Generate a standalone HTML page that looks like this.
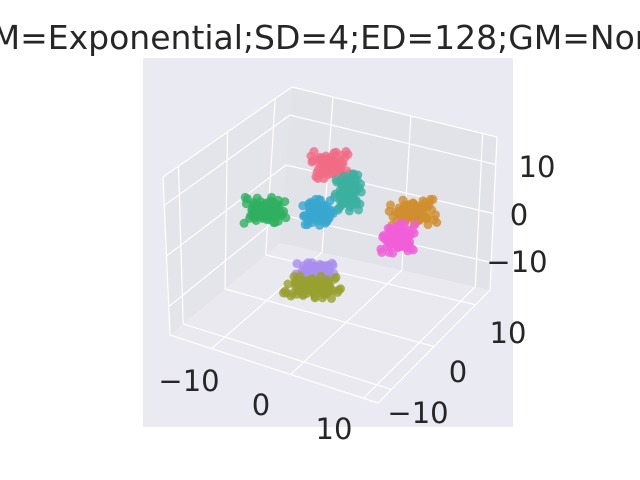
<!DOCTYPE html>
<html><head><meta charset="utf-8"><style>
body{margin:0;background:#fff;width:640px;height:480px;overflow:hidden}
svg{display:block}
text{font-family:"DejaVu Sans","Liberation Sans",sans-serif;fill:#262626}
</style></head><body>
<svg id="c" width="640" height="480">
<text x="320" y="49" font-size="33" text-anchor="middle">M=Exponential;SD=4;ED=128;GM=Nor</text>
<rect x="143" y="58" width="370" height="369" fill="#eaeaf2"/>
<polygon points="170,335 163,177 292,87 280,243" fill="#e4e4eb"/>
<polygon points="280,243 292,87 497,137 490,290" fill="#e2e2e9"/>
<polygon points="170,335 280,243 490,290 378,403" fill="#e9e9ef"/>
<g id="grid" stroke="#fff" stroke-width="1.2" fill="none"></g>
<g id="pts"></g>
<g id="ticks"></g>
</svg>
<script>
const clusterNames=['pink','teal','blue','green','orange','magenta','purple','olive'];
const clusterColors=['#f06d84','#3bb0a0','#38a7d0','#30b060','#cf8e30','#f05fd8','#a98ff0','#98a030'];
const centerX=[330,348,318,265,413,398,315,312];
const centerY=[165,192,212,210,212,238,270,287];
const spreadX=[20,14,16,22,25,18,20,30];
const spreadY=[15,20,14,14,14,16,8,12];
const offX=[-0.9,-0.6,-0.3,0,0.3,0.6,0.9,-0.8,-0.4,0.1,0.5,0.8,-0.7,-0.2,0.2,0.7,-0.5,0,0.4,0.95,-0.95,-0.1,0.35,-0.65,0.65,-0.3,0.15,0.55,-0.45,0.05,0.85,-0.85,0.25,-0.15,0.45,-0.55,0.75,-0.35,0.1,0.6];
const offY=[-0.2,0.5,-0.7,0.1,0.8,-0.4,0.3,0.9,-0.1,-0.9,0.4,-0.6,-0.5,0.6,0.2,0.9,0.0,-0.3,-0.8,0.1,-0.6,0.35,0.55,0.25,-0.15,0.75,-0.45,0.65,-0.85,0.95,-0.25,0.45,-0.05,-0.65,0.15,0.7,0.6,-0.9,0.5,-0.35];
const zTicks=['10','0','\u221210'];
const yTicks=['10','0','\u221210'];
const xTicks=['\u221210','0','10'];
const NS='http://www.w3.org/2000/svg';
function mk(t,a,p){const e=document.createElementNS(NS,t);for(const k in a)e.setAttribute(k,a[k]);p.appendChild(e);return e;}
const g=document.getElementById('grid');
function L(x1,y1,x2,y2){const e=mk('line',{x1,y1,x2,y2},g);}
function lerp(a,b,t){return[a[0]+(b[0]-a[0])*t,a[1]+(b[1]-a[1])*t];}
const A=[170,335],B=[163,177],C=[292,87],D=[280,243],E=[497,137],F=[490,290],G=[378,403];
[0.12,0.5,0.87].forEach(t=>{const p=lerp(A,D,t),q=lerp(B,C,t);L(p[0],p[1],q[0],q[1]);});
[0.2,0.58,0.93].forEach(t=>{const p=lerp(D,F,t),q=lerp(C,E,t);L(p[0],p[1],q[0],q[1]);});
[0.18,0.5,0.82].forEach(t=>{const p=lerp(A,B,t),q=lerp(D,C,t),r=lerp(F,E,t);L(p[0],p[1],q[0],q[1]);L(q[0],q[1],r[0],r[1]);});
[0.2,0.58,0.93].forEach(t=>{const p=lerp(A,G,t),q=lerp(D,F,t);L(p[0],p[1],q[0],q[1]);});
[0.12,0.5,0.87].forEach(t=>{const p=lerp(A,D,t),q=lerp(G,F,t);L(p[0],p[1],q[0],q[1]);});
L(A[0],A[1],G[0],G[1]);L(G[0],G[1],F[0],F[1]);L(A[0],A[1],B[0],B[1]);L(F[0],F[1],E[0],E[1]);L(B[0],B[1],C[0],C[1]);L(C[0],C[1],E[0],E[1]);
const pg=document.getElementById('pts');
clusterNames.forEach((n,i)=>{[0,1,2].forEach(pass=>{offX.forEach((ox,j)=>{
 const sx=pass===0?1:(pass===1?0.6:0.35);
 const c=mk('circle',{cx:centerX[i]+ox*spreadX[i]*sx,cy:centerY[i]+offY[(j*7+i*3+pass*11)%offY.length]*spreadY[i]*sx,r:4.5,fill:clusterColors[i],'fill-opacity':0.8},pg);
 
 
});});});
const tg=document.getElementById('ticks');
function T(s,x,y,nm){const e=mk('text',{x,y,'font-size':29,'text-anchor':'middle'},tg);e.textContent=s;}
[[537,177],[519,225],[517,272]].forEach((p,i)=>T(zTicks[i],p[0],p[1],'z-tick-label'));
[[508,343],[458,382],[418,423]].forEach((p,i)=>T(yTicks[i],p[0],p[1],'y-tick-label'));
[[189,391],[261,415],[334,439]].forEach((p,i)=>T(xTicks[i],p[0],p[1],'x-tick-label'));
</script>
</body></html>
